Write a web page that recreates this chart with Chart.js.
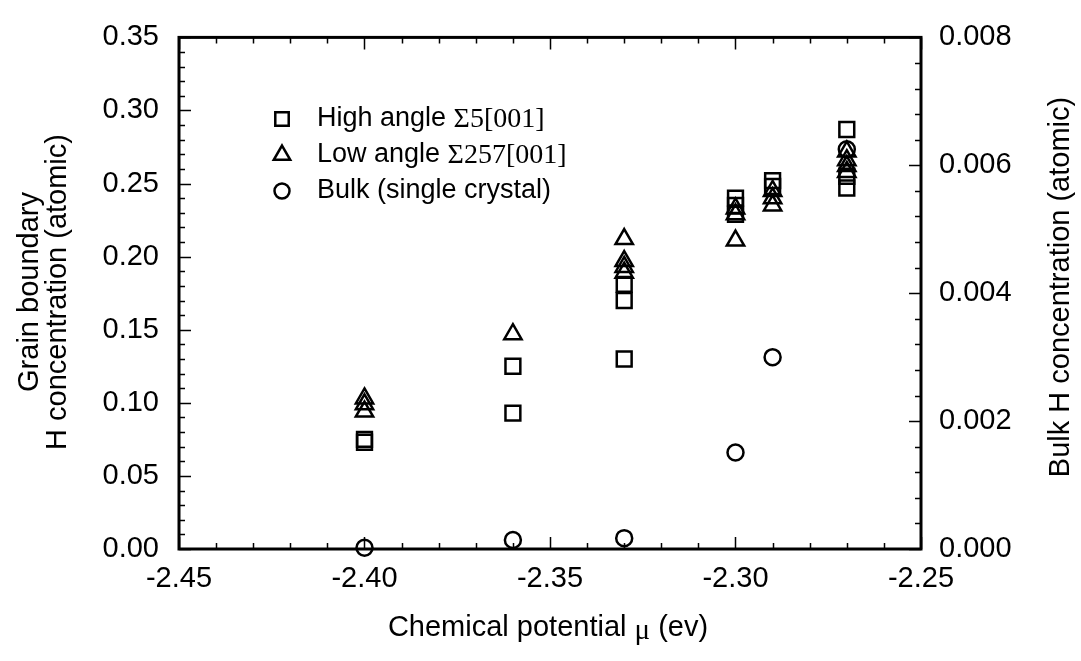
<!DOCTYPE html>
<html>
<head>
<meta charset="utf-8">
<script src="https://cdn.jsdelivr.net/npm/chart.js@4.4.1/dist/chart.umd.min.js"></script>
<style>
  html, body { margin: 0; padding: 0; background: #fff; }
  #wrap { width: 1081px; height: 661px; position: relative; }
</style>
</head>
<body>
<div id="wrap"><canvas id="grainChart"></canvas></div>
<script>
// --- DADOS ---
const highMu  = [-2.40, -2.40, -2.36, -2.36, -2.33, -2.33, -2.33, -2.30, -2.30, -2.30, -2.29, -2.29, -2.27, -2.27, -2.27];
const highGB  = [0.075, 0.073, 0.125, 0.093, 0.181, 0.170, 0.130, 0.240, 0.235, 0.229, 0.252, 0.248, 0.287, 0.255, 0.247];

const lowMu   = [-2.40, -2.40, -2.40, -2.36, -2.33, -2.33, -2.33, -2.33, -2.30, -2.30, -2.30, -2.29, -2.29, -2.29, -2.27, -2.27, -2.27, -2.27];
const lowGB   = [0.103, 0.099, 0.094, 0.147, 0.212, 0.197, 0.193, 0.189, 0.233, 0.229, 0.211, 0.245, 0.240, 0.235, 0.272, 0.266, 0.262, 0.258];

const bulkMu  = [-2.40, -2.36, -2.33, -2.30, -2.29, -2.27];
const bulkH   = [0.00002, 0.00014, 0.00017, 0.00151, 0.00300, 0.00625];

const xTicks     = [-2.45, -2.40, -2.35, -2.30, -2.25];
const gbTicks    = [0.00, 0.05, 0.10, 0.15, 0.20, 0.25, 0.30, 0.35];
const bulkTicks  = [0.000, 0.002, 0.004, 0.006, 0.008];

const legendLabels = [
    ['High angle ', 'Σ5[001]'],
    ['Low angle ', 'Σ257[001]'],
    ['Bulk (single crystal)', '']
];

const SANS = '"Liberation Sans", Arial, sans-serif';
const SERIF = '"Liberation Serif", "Times New Roman", serif';
const FS = 29;   // ticks e títulos
const LFS = 27;  // legenda

function toXY(xs, ys) { return xs.map((x, i) => ({ x: x, y: ys[i] })); }

// moldura + ticks para dentro + títulos + legenda
const framePlugin = {
    id: 'frame',
    afterDraw(chart) {
        const ctx = chart.ctx;
        const a = chart.chartArea;
        const sx = chart.scales.x, sy = chart.scales.y, sb = chart.scales.yBulk;
        ctx.save();
        ctx.strokeStyle = '#000';

        // ticks
        ctx.lineWidth = 1.5;
        ctx.beginPath();
        const xMin = xTicks[0], xMax = xTicks[xTicks.length - 1];
        for (let k = 0; k <= Math.round((xMax - xMin) / 0.01); k++) {
            const v = xMin + k * 0.01;
            const len = (k % 5 === 0) ? 12 : 6;
            const px = Math.round(sx.getPixelForValue(v)) + 0.5;
            ctx.moveTo(px, a.bottom); ctx.lineTo(px, a.bottom - len);
            ctx.moveTo(px, a.top); ctx.lineTo(px, a.top + len);
        }
        for (let k = 0; k <= 35; k++) {
            const len = (k % 5 === 0) ? 12 : 6;
            const py = Math.round(sy.getPixelForValue(k * 0.01)) + 0.5;
            ctx.moveTo(a.left, py); ctx.lineTo(a.left + len, py);
        }
        for (let k = 0; k <= 20; k++) {
            const len = (k % 5 === 0) ? 12 : 6;
            const py = Math.round(sb.getPixelForValue(k * 0.0004)) + 0.5;
            ctx.moveTo(a.right, py); ctx.lineTo(a.right - len, py);
        }
        ctx.stroke();

        // moldura
        ctx.lineWidth = 3;
        ctx.strokeRect(a.left, a.top, a.right - a.left, a.bottom - a.top);

        // títulos dos eixos
        ctx.fillStyle = '#000';
        ctx.textBaseline = 'middle';
        ctx.textAlign = 'center';
        ctx.font = FS + 'px ' + SANS;

        ctx.save();
        ctx.translate(30, 292);
        ctx.rotate(-Math.PI / 2);
        ctx.fillText('Grain boundary', 0, 0);
        ctx.fillText('H concentration (atomic)', 0, 28);
        ctx.restore();

        ctx.save();
        ctx.translate(1061, 287);
        ctx.rotate(-Math.PI / 2);
        ctx.fillText('Bulk H concentration (atomic)', 0, 0);
        ctx.restore();

        // título x com μ em serif
        const p1 = 'Chemical potential ', p2 = 'μ', p3 = ' (ev)';
        ctx.font = FS + 'px ' + SANS;
        const w1 = ctx.measureText(p1).width, w3 = ctx.measureText(p3).width;
        ctx.font = FS + 'px ' + SERIF;
        const w2 = ctx.measureText(p2).width;
        let tx = 548 - (w1 + w2 + w3) / 2;
        ctx.textAlign = 'left';
        ctx.font = FS + 'px ' + SANS; ctx.fillText(p1, tx, 628); tx += w1;
        ctx.font = FS + 'px ' + SERIF; ctx.fillText(p2, tx, 631); tx += w2;
        ctx.font = FS + 'px ' + SANS; ctx.fillText(p3, tx, 628);

        // legenda
        const styles = ['rect', 'triangle', 'circle'];
        const radii = [9.5, 9.5, 7.5];
        const rows = [119, 155, 191];
        rows.forEach((ry, i) => {
            ctx.fillStyle = 'rgba(0,0,0,0)';
            ctx.strokeStyle = '#000';
            ctx.lineWidth = 2.5;
            Chart.helpers.drawPoint(ctx, { pointStyle: styles[i], radius: radii[i], borderWidth: 2.5 }, 282, ry);
            ctx.fillStyle = '#000';
            ctx.font = LFS + 'px ' + SANS;
            ctx.fillText(legendLabels[i][0], 317, ry);
            const w = ctx.measureText(legendLabels[i][0]).width;
            if (legendLabels[i][1]) {
                ctx.font = (LFS + 1) + 'px ' + SERIF;
                ctx.fillText(legendLabels[i][1], 317 + w, ry + 1);
            }
        });
        ctx.restore();
    }
};

const markerBase = {
    showLine: false,
    backgroundColor: 'rgba(0,0,0,0)',
    borderColor: '#000',
    pointBorderWidth: 2.5,
    pointHoverRadius: 10,
    clip: false
};

new Chart(document.getElementById('grainChart').getContext('2d'), {
    type: 'scatter',
    data: {
        datasets: [
            { ...markerBase, label: 'High angle Σ5[001]', data: toXY(highMu, highGB), pointStyle: 'rect', pointRadius: 10.5, yAxisID: 'y' },
            { ...markerBase, label: 'Low angle Σ257[001]', data: toXY(lowMu, lowGB), pointStyle: 'triangle', pointRadius: 10, yAxisID: 'y' },
            { ...markerBase, label: 'Bulk (single crystal)', data: toXY(bulkMu, bulkH), pointStyle: 'circle', pointRadius: 8, yAxisID: 'yBulk' }
        ]
    },
    options: {
        responsive: true,
        maintainAspectRatio: false,
        animation: false,
        layout: { padding: { top: 31, left: 0, right: 0, bottom: 0 } },
        plugins: { legend: { display: false }, tooltip: { enabled: false } },
        scales: {
            x: {
                type: 'linear',
                min: xTicks[0], max: xTicks[xTicks.length - 1],
                afterBuildTicks: s => { s.ticks = xTicks.map(v => ({ value: v })); },
                afterFit: s => { s.height = 112; },
                grid: { display: false, drawTicks: false },
                border: { display: false },
                ticks: { padding: 13, color: '#000', font: { family: SANS, size: FS }, maxRotation: 0,
                         callback: v => v.toFixed(2) }
            },
            y: {
                position: 'left',
                min: gbTicks[0], max: gbTicks[gbTicks.length - 1],
                afterBuildTicks: s => { s.ticks = gbTicks.map(v => ({ value: v })); },
                afterFit: s => { s.width = 179; },
                grid: { display: false, drawTicks: false },
                border: { display: false },
                ticks: { padding: 20, color: '#000', font: { family: SANS, size: FS },
                         callback: v => v.toFixed(2) }
            },
            yBulk: {
                position: 'right',
                min: bulkTicks[0], max: bulkTicks[bulkTicks.length - 1],
                afterBuildTicks: s => { s.ticks = bulkTicks.map(v => ({ value: v })); },
                afterFit: s => { s.width = 160; },
                grid: { display: false, drawTicks: false },
                border: { display: false },
                ticks: { padding: 18, color: '#000', font: { family: SANS, size: FS },
                         callback: v => v.toFixed(3) }
            }
        }
    },
    plugins: [framePlugin]
});
</script>
</body>
</html>
